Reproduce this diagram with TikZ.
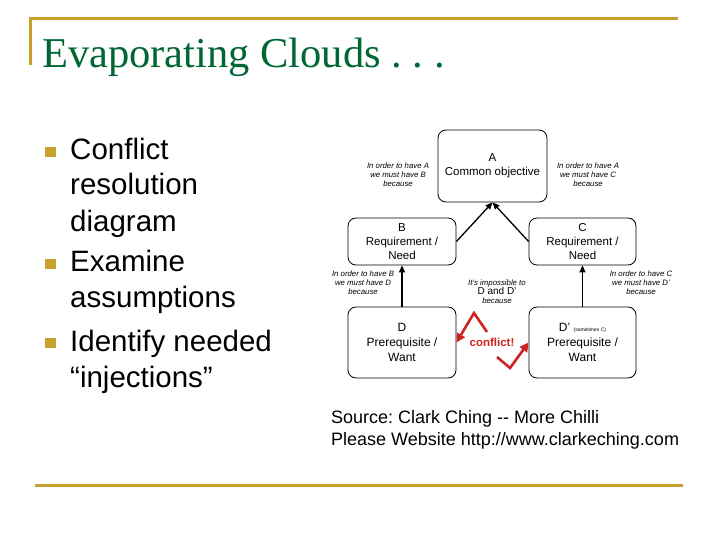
\documentclass[tikz,border=0pt]{standalone}
\usepackage{fontspec}
\setmainfont{Liberation Serif}
\setsansfont{Liberation Sans}
\usetikzlibrary{arrows.meta}
\definecolor{titlegreen}{RGB}{0, 102, 51}
\definecolor{rulegold}{RGB}{200, 160, 45}
\definecolor{conflictred}{RGB}{205, 35, 35}
\frenchspacing

\begin{document}
\begin{tikzpicture}[x=1pt, y=-1pt,
    cloudbox/.style={draw, rounded corners=8pt, line width=0.8pt, align=center, inner sep=0pt},
    note/.style={align=center, font=\sffamily\itshape\fontsize{7.8}{9.2}\selectfont},
    bullettext/.style={anchor=base west, align=left, inner sep=0pt, font=\sffamily\fontsize{29.5}{36}\selectfont},
    link/.style={-{Triangle[length=7pt, width=6pt]}, line width=1.3pt},
    clash/.style={-{Triangle[length=9pt, width=9pt]}, line width=2.6pt, conflictred}]
    \useasboundingbox (0,0) rectangle (720,540);

    % Gold rules
    \draw[rulegold, line width=3pt] (30,65) -- (30,19) -- (678,19);
    \draw[rulegold, line width=3pt] (35,485) -- (683,485);

    % Title
    \node[anchor=base west, inner sep=0pt, titlegreen, font=\fontsize{42.5}{50}\selectfont] (title) at (42,68) {Evaporating Clouds . . .};

    % Bullet list (anchored at the last line)
    \fill[rulegold] (45,147) rectangle (56,157);
    \fill[rulegold] (45,259) rectangle (56,269);
    \fill[rulegold] (45,338) rectangle (56,348);
    \node[bullettext] (item1) at (70,231) {Conflict\\resolution\\diagram};
    \node[bullettext] (item2) at (70,307) {Examine\\assumptions};
    \node[bullettext] (item3) at (70,387) {Identify needed\\``injections''};

    % Cloud boxes
    \node[cloudbox, minimum width=109, minimum height=72, font=\sffamily\fontsize{11.5}{14}\selectfont] (A) at (492.5,166) {A\\Common objective};
    \node[cloudbox, minimum width=108, minimum height=47, font=\sffamily\fontsize{11.5}{14}\selectfont] (B) at (402,241.5) {B\\Requirement /\\Need};
    \node[cloudbox, minimum width=107, minimum height=47, font=\sffamily\fontsize{11.5}{14}\selectfont] (C) at (582.5,241.5) {C\\Requirement /\\Need};
    \node[cloudbox, minimum width=108, minimum height=71, font=\sffamily\fontsize{12}{15}\selectfont] (D) at (402,342.5) {D\\Prerequisite /\\Want};
    \node[cloudbox, minimum width=107, minimum height=71, font=\sffamily\fontsize{12}{15}\selectfont] (Dp) at (582.5,342.5) {D' {\fontsize{5}{6}\selectfont(sometimes C)}\\Prerequisite /\\Want};

    % Notes on the links
    \node[note] (nAB) at (398,175) {In order to have A\\we must have B\\because};
    \node[note] (nAC) at (588,175) {In order to have A\\we must have C\\because};
    \node[note] (nBD) at (363,283) {In order to have B\\we must have D\\because};
    \node[note] (nCD) at (641,283) {In order to have C\\we must have D'\\because};
    \node[note] (nDD) at (497,292) {It's impossible to\\{\upshape\fontsize{10}{10}\selectfont D and D'}\\because};

    % Links
    \draw[link] (B.east) -- (A.south);
    \draw[link] (C.west) -- (A.south);
    \draw[link] (D.north) -- (B.south);
    \draw[link] (Dp.north) -- (C.south);

    % Conflict zigzag
    \coordinate (k1) at (487,332);
    \coordinate (k2) at (474,313);
    \coordinate (k3) at (497,357);
    \coordinate (k4) at (510,368);
    \draw[clash] (k1) -- (k2) -- (D.east);
    \draw[clash] (k3) -- (k4) -- (Dp.west);
    \node[conflictred, font=\sffamily\bfseries\fontsize{11.5}{14}\selectfont] (clash) at (492,342) {conflict!};

    % Source
    \node[anchor=base west, align=left, inner sep=0pt, font=\sffamily\fontsize{18}{22}\selectfont] (source) at (331,445) {Source: Clark Ching {-}{-} More Chilli\\Please Website http://www.clarkeching.com};
\end{tikzpicture}
\end{document}
